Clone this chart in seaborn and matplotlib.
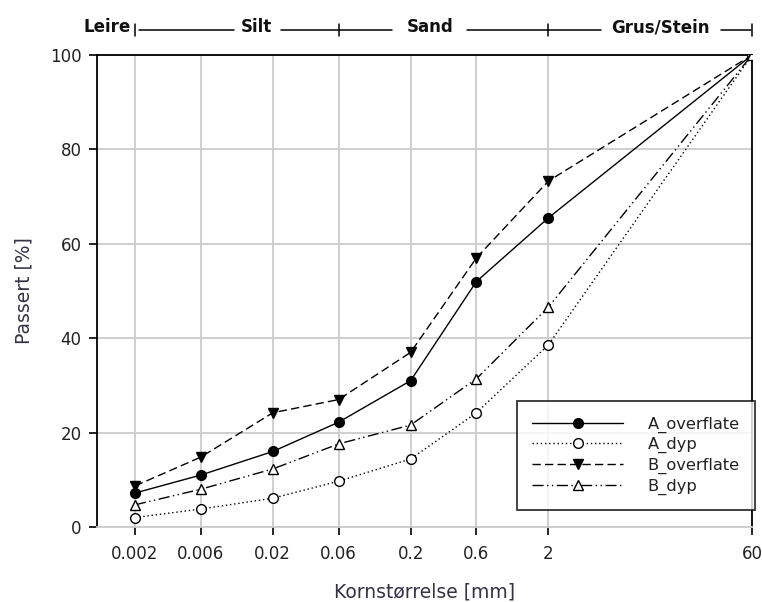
import matplotlib
matplotlib.use("Agg")
import matplotlib.pyplot as plt
import matplotlib.transforms as mtransforms
import seaborn as sns
import pandas as pd

sizes = [0.002, 0.006, 0.02, 0.06, 0.2, 0.6, 2, 60]
tick_labels = ["0.002", "0.006", "0.02", "0.06", "0.2", "0.6", "2", "60"]
a_overflate = [7.2, 11.0, 16.0, 22.2, 31.0, 52.0, 65.5, 100]
a_dyp = [2.0, 3.8, 6.1, 9.7, 14.4, 24.2, 38.6, 100]
b_overflate = [8.7, 14.8, 24.2, 27.0, 37.0, 57.0, 73.3, 100]
b_dyp = [4.7, 8.0, 12.3, 17.6, 21.6, 31.4, 46.6, 100]
series_names = ["A_overflate", "A_dyp", "B_overflate", "B_dyp"]
zone_labels = ["Leire", "Silt", "Sand", "Grus/Stein"]
zone_bounds = [0.002, 0.06, 2, 60]

sns.set_style("white")
plt.rcParams["font.family"] = ["DejaVu Sans"]

fig = plt.figure(figsize=(7.62, 6.02), dpi=100)
ax = fig.add_axes([97 / 762, 1 - 527 / 602, 655 / 762, 472 / 602])

styles = {
    "A_overflate": dict(linestyle="-", marker="o", mfc="black"),
    "A_dyp": dict(linestyle=(0, (1, 2)), marker="o", mfc="white"),
    "B_overflate": dict(linestyle=(0, (6, 3)), marker="v", mfc="black"),
    "B_dyp": dict(linestyle=(0, (8, 2.5, 1, 2.5, 1, 2.5)), marker="^", mfc="white"),
}
values = [a_overflate, a_dyp, b_overflate, b_dyp]
for name, vals in zip(series_names, values):
    df = pd.DataFrame({"size": sizes, "passert": vals})
    st = styles[name]
    sns.lineplot(data=df, x="size", y="passert", ax=ax, color="black",
                 linestyle=st["linestyle"], linewidth=1.0, marker=st["marker"],
                 markerfacecolor=st["mfc"], markeredgecolor="black",
                 markersize=7, markeredgewidth=1.0, label=name, zorder=3)

ax.set_xscale("log")
ax.set_xlim(0.00106, 60)
ax.set_ylim(0, 100)
ax.set_xticks(sizes)
ax.set_xticklabels(tick_labels)
ax.minorticks_off()
ax.set_yticks([0, 20, 40, 60, 80, 100])
ax.grid(True, color="#cccccc", linewidth=1.3, zorder=0)
ax.set_axisbelow(True)
for s in ["left", "top", "right"]:
    ax.spines[s].set_color("black")
    ax.spines[s].set_linewidth(1.3)
ax.spines["bottom"].set_color("#cccccc")
ax.spines["bottom"].set_linewidth(1.3)
ax.tick_params(axis="both", which="major", direction="out", length=6, width=1.2,
               color="black", labelsize=12, labelcolor="#222222",
               bottom=True, left=True)
ax.tick_params(axis="x", pad=7)
ax.tick_params(axis="y", pad=5)

ax.set_xlabel("Kornstørrelse [mm]", fontsize=13.5, color="#333344", labelpad=14)
ax.set_ylabel("Passert [%]", fontsize=13.5, color="#333344", labelpad=12)

leg = ax.legend(loc="lower right", bbox_to_anchor=(1.005, 0.036), frameon=True,
                fancybox=False, edgecolor="black", fontsize=11.7, handlelength=5.6,
                handletextpad=1.5, labelspacing=0.27, borderpad=0.95,
                borderaxespad=0)
leg.get_frame().set_linewidth(1.3)
for t in leg.get_texts():
    t.set_color("#222222")

# Soil-class header above the plot
trans = mtransforms.blended_transform_factory(ax.transAxes, ax.transAxes)
transd = mtransforms.blended_transform_factory(ax.transData, ax.transAxes)
ly = (527 - 30) / 472
ty = (527 - 27) / 472
label_x = [(107 - 97) / 655, (256 - 97) / 655, (430 - 97) / 655, (660 - 97) / 655]
for lab, xx in zip(zone_labels, label_x):
    ax.text(xx, ty, lab, transform=trans, ha="center", va="center",
            fontsize=12, fontweight="bold", family="DejaVu Sans",
            color="#111111", clip_on=False)
segs = [(139, 234), (281, 392), (467, 601), (721, 751)]
for a, b in segs:
    ax.plot([(a - 97) / 655, (b - 97) / 655], [ly, ly], transform=trans,
            color="black", linewidth=1.1, clip_on=False)
for b in zone_bounds:
    ax.plot([b, b], [ly - 0.012, ly + 0.012], transform=transd, color="black",
            linewidth=1.1, clip_on=False)

fig.savefig("out.png", dpi=100)
